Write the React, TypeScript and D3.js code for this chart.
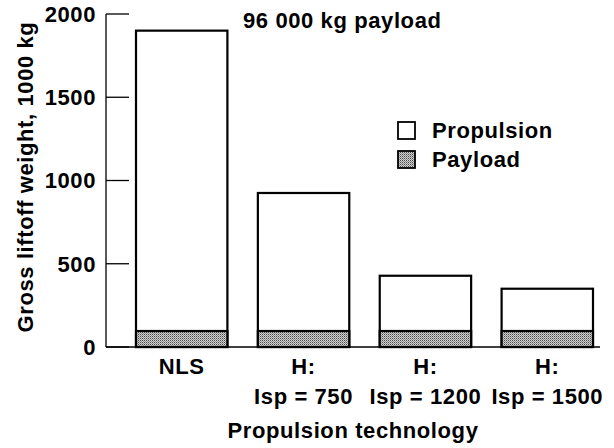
import React from "react";
import * as d3 from "d3";

const categories = ["NLS", "H750", "H1200", "H1500"];
const labelLine1 = ["NLS", "H:", "H:", "H:"];
const labelLine2 = ["", "Isp = 750", "Isp = 1200", "Isp = 1500"];
const totalWeight = [1900, 925, 428, 350];
const payloadWeight = [96, 96, 96, 96];
const yTicks = [0, 500, 1000, 1500, 2000];

const W = 614;
const H = 448;
const FONT = "'Liberation Sans', Arial, Helvetica, sans-serif";
const FS = 22;
const LS = 0.6;

export default function App() {
  const y = d3.scaleLinear().domain([0, 2000]).range([347, 14]);
  const x = d3.scaleBand<string>().domain(categories).range([136, 593]).paddingInner(0.25).paddingOuter(0);
  const axisX = 106;
  const bw = x.bandwidth();
  const txt = { fontFamily: FONT, fontWeight: "bold" as const, fontSize: FS, letterSpacing: LS };

  return (
    <svg width={W} height={H} style={{ position: "absolute", left: 0, top: 0, background: "#fff" }}>
      <defs>
        <pattern id="stipple" width={2} height={2} patternUnits="userSpaceOnUse">
          <rect width={2} height={2} fill="#d0d0d0" />
          <rect x={0} y={0} width={1} height={1} fill="#4a4a4a" />
          <rect x={1} y={1} width={1} height={1} fill="#909090" />
        </pattern>
      </defs>
      {/* axes */}
      <line x1={axisX} x2={axisX} y1={y(2000)} y2={y(0)} stroke="#000" strokeWidth={1.3} />
      <line x1={axisX} x2={600} y1={y(0)} y2={y(0)} stroke="#000" strokeWidth={1.3} />
      {yTicks.map((t) => (
        <g key={t}>
          <line x1={axisX} x2={axisX + 23} y1={y(t)} y2={y(t)} stroke="#000" strokeWidth={1.3} />
          <text x={96} y={y(t)} dy="0.36em" textAnchor="end" {...txt}>
            {t}
          </text>
        </g>
      ))}
      {/* bars */}
      {categories.map((c, i) => (
        <g key={c}>
          <rect x={x(c)!} y={y(totalWeight[i])} width={bw} height={y(0) - y(totalWeight[i])} fill="#fff" stroke="#000" strokeWidth={2.2} />
          <rect x={x(c)!} y={y(payloadWeight[i])} width={bw} height={y(0) - y(payloadWeight[i])} fill="url(#stipple)" stroke="#000" strokeWidth={2.2} />
          <text x={x(c)! + bw / 2} y={374} textAnchor="middle" {...txt}>
            {labelLine1[i]}
          </text>
          {labelLine2[i] && (
            <text x={x(c)! + bw / 2} y={404} textAnchor="middle" {...txt}>
              {labelLine2[i]}
            </text>
          )}
        </g>
      ))}
      {/* annotation */}
      <text x={243} y={28} {...txt}>
        96 000 kg payload
      </text>
      {/* legend */}
      <rect x={398} y={122} width={17} height={17} fill="#fff" stroke="#000" strokeWidth={1.8} />
      <text x={432} y={138} {...txt}>Propulsion</text>
      <rect x={398} y={151} width={17} height={17} fill="url(#stipple)" stroke="#000" strokeWidth={1.8} />
      <text x={432} y={167} {...txt}>Payload</text>
      {/* axis titles */}
      <text x={353} y={438} textAnchor="middle" {...txt}>
        Propulsion technology
      </text>
      <text transform="translate(33,177) rotate(-90)" textAnchor="middle" {...txt}>
        Gross liftoff weight, 1000 kg
      </text>
    </svg>
  );
}
